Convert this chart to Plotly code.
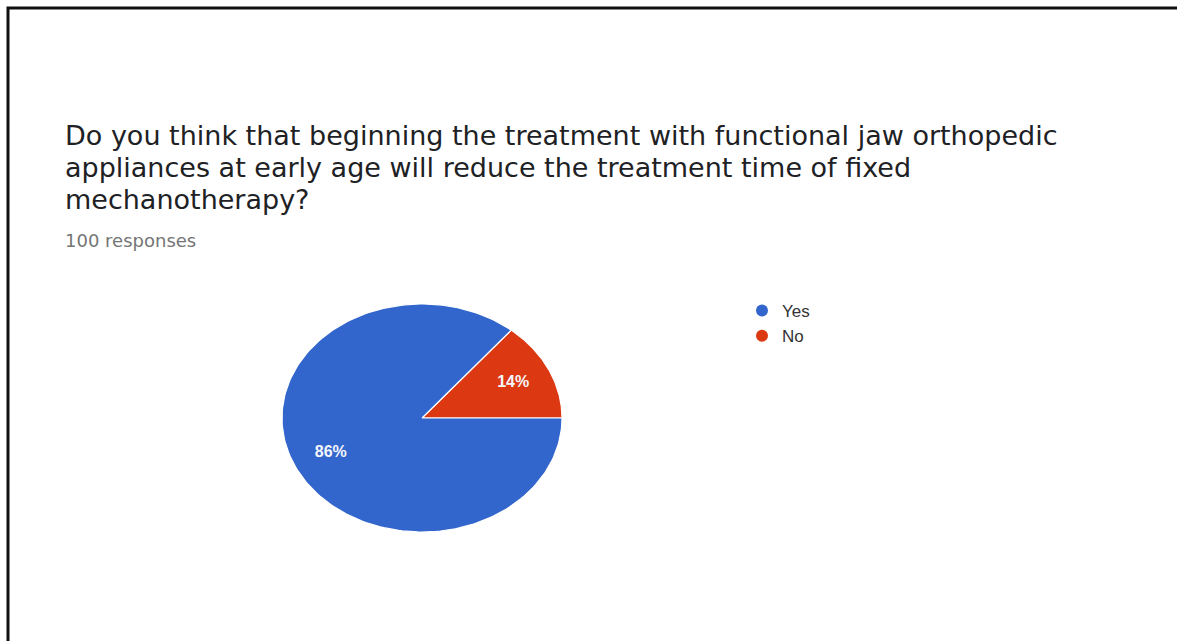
import numpy as np
import plotly.graph_objects as go

# Survey answers
categories = ["Yes", "No"]
percent = [86, 14]
colors = ["#3366CC", "#DC3912"]

question_lines = [
    "Do you think that beginning the treatment with functional jaw orthopedic",
    "appliances at early age will reduce the treatment time of fixed",
    "mechanotherapy?",
]
subtitle = "100 responses"

W, H = 1177, 641

# Pie area in pixels (elliptical, wider than tall)
cx, cy, rx, ry = 422, 418, 140, 114

fig = go.Figure()

# Slices: "No" starts at 3 o'clock going counter-clockwise, "Yes" fills the rest
order = [1, 0]
start = 0.0
mids = {}
for i in order:
    span = percent[i] / sum(percent) * 2 * np.pi
    t = np.linspace(start, start + span, 200)
    xs = np.concatenate([[0], np.cos(t), [0]])
    ys = np.concatenate([[0], np.sin(t), [0]])
    fig.add_trace(go.Scatter(
        x=xs, y=ys, mode="lines", fill="toself", fillcolor=colors[i],
        line=dict(color="white", width=1.2), showlegend=False, hoverinfo="skip"))
    mids[i] = start + span / 2
    start += span

# Percentage labels inside slices
for i in order:
    fig.add_trace(go.Scatter(
        x=[0.72 * np.cos(mids[i])], y=[0.72 * np.sin(mids[i])], mode="text",
        text=[f"<b>{percent[i]}%</b>"],
        textfont=dict(family="Liberation Sans", size=16, color="#f4f6fb"),
        showlegend=False, hoverinfo="skip"))

# Legend entries
for name, c in zip(categories, colors):
    fig.add_trace(go.Scatter(
        x=[None], y=[None], mode="markers", name=name,
        marker=dict(symbol="circle", size=16, color=c)))

# Question text, one annotation per line
line_mid = [136, 168, 200]
annotations = [
    dict(text=txt, x=63 / W, y=1 - ym / H, xref="paper", yref="paper",
         xanchor="left", yanchor="middle", align="left", showarrow=False,
         font=dict(family="DejaVu Sans", size=27, color="#202124"))
    for txt, ym in zip(question_lines, line_mid)
]
annotations.append(
    dict(text=subtitle, x=63 / W, y=1 - 240 / H, xref="paper", yref="paper",
         xanchor="left", yanchor="middle", align="left", showarrow=False,
         font=dict(family="DejaVu Sans", size=18, color="#757575")))

fig.update_layout(
    width=W, height=H,
    margin=dict(l=0, r=0, t=0, b=0),
    paper_bgcolor="white", plot_bgcolor="rgba(0,0,0,0)",
    xaxis=dict(range=[-1, 1], domain=[(cx - rx) / W, (cx + rx) / W],
               visible=False, fixedrange=True),
    yaxis=dict(range=[-1, 1], domain=[(H - cy - ry) / H, (H - cy + ry) / H],
               visible=False, fixedrange=True),
    legend=dict(x=742 / W, y=1 - 293 / H, xanchor="left", yanchor="top",
                font=dict(family="Arial", size=17, color="#333333"),
                itemsizing="constant", tracegroupgap=0, bgcolor="rgba(0,0,0,0)"),
    annotations=annotations,
    shapes=[
        dict(type="rect", xref="paper", yref="paper",
             x0=8 / W, x1=1.02, y0=-0.02, y1=1 - 8 / H,
             line=dict(color="#111111", width=3), fillcolor="rgba(0,0,0,0)"),
    ],
)

fig.write_html("out.html")
